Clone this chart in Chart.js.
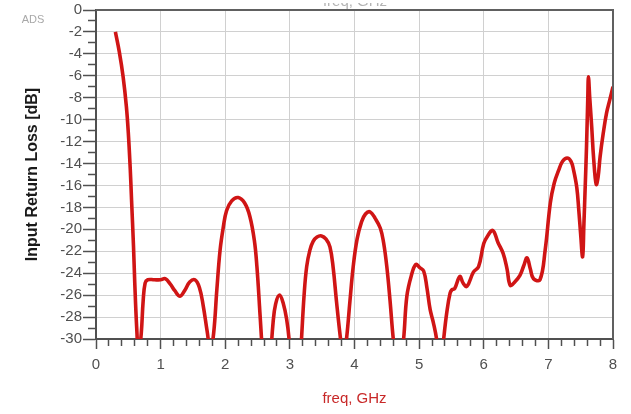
<!DOCTYPE html>
<html>
<head>
<meta charset="utf-8">
<script src="https://cdn.jsdelivr.net/npm/chart.js@4.4.1/dist/chart.umd.min.js"></script>
<style>
  body { margin: 0; background: #fff; }
  #wrap { width: 631px; height: 414px; }
</style>
</head>
<body>
<div id="wrap"><canvas id="myChart"></canvas></div>
<script>
// frequency in GHz
let freq = [
  0.30, 0.36, 0.42, 0.47, 0.50, 0.53, 0.55, 0.58, 0.60, 0.63, 0.66, 0.70, 0.73, 0.76, 0.80,
  0.90, 1.00, 1.07, 1.15, 1.22, 1.30, 1.38, 1.45, 1.53, 1.60, 1.66, 1.72, 1.77, 1.82, 1.87,
  1.92, 1.97, 2.02, 2.10, 2.20, 2.30, 2.38, 2.45, 2.49, 2.53, 2.58, 2.64, 2.70, 2.74, 2.78,
  2.84, 2.90, 2.95, 2.99, 3.05, 3.12, 3.18, 3.22, 3.26, 3.31, 3.36, 3.42, 3.49, 3.56, 3.62,
  3.67, 3.72, 3.78, 3.83, 3.88, 3.93, 3.98, 4.04, 4.11, 4.17, 4.24, 4.32, 4.40, 4.45, 4.50,
  4.55, 4.60, 4.68, 4.76, 4.81, 4.88, 4.95, 5.01, 5.07, 5.12, 5.17, 5.22, 5.27, 5.33, 5.38,
  5.43, 5.48, 5.51, 5.55, 5.63, 5.68, 5.74, 5.84, 5.92, 6.00, 6.06, 6.14, 6.22, 6.30, 6.36,
  6.41, 6.48, 6.56, 6.62, 6.67, 6.72, 6.77, 6.87, 6.95, 7.03, 7.09, 7.16, 7.22, 7.29, 7.35,
  7.39, 7.44, 7.47, 7.50, 7.53, 7.55, 7.57, 7.59, 7.61, 7.62, 7.64, 7.67, 7.70, 7.74, 7.77,
  7.80, 7.85, 7.90, 7.95, 8.00
];

// input return loss in dB (values below -30 are cut off by the axis)
let returnLoss = [
  -2.0, -3.8, -6.1, -8.8, -11.2, -14.5, -17.3, -21.5, -24.9, -29.0, -31.5, -29.5, -26.5, -24.9, -24.6,
  -24.6, -24.6, -24.5, -25.0, -25.6, -26.1, -25.5, -24.8, -24.6, -25.3, -27.0, -29.3, -31.0, -29.5, -25.5,
  -21.9, -19.8, -18.3, -17.4, -17.1, -17.6, -18.8, -21.0, -23.4, -27.0, -32.0, -40.0, -32.0, -28.5, -26.8,
  -26.0, -26.8, -28.2, -30.2, -36.0, -36.0, -30.0, -26.0, -23.4, -21.9, -21.1, -20.7, -20.6, -20.9, -21.6,
  -23.5, -26.5, -29.8, -32.0, -29.8, -26.5, -23.4, -20.9, -19.3, -18.6, -18.4, -19.0, -19.9, -21.2, -23.4,
  -26.5, -30.0, -34.0, -30.0, -26.1, -24.2, -23.2, -23.5, -23.8, -25.3, -27.3, -28.5, -30.0, -33.0, -30.0,
  -27.5, -25.8, -25.5, -25.4, -24.3, -24.9, -25.2, -23.9, -23.4, -21.3, -20.6, -20.1, -21.2, -22.2, -23.6,
  -25.1, -24.8, -24.2, -23.3, -22.6, -23.6, -24.5, -24.6, -21.9, -17.6, -15.8, -14.6, -13.8, -13.5, -13.8,
  -14.6, -16.2, -18.2, -20.5, -22.5, -19.5, -16.1, -12.5, -8.0, -6.1, -8.0, -10.6, -13.5, -15.9, -15.2,
  -13.4, -11.2, -9.4, -8.2, -7.0
];

let xLabelTitle = 'freq, GHz';
let yLabelTitle = 'Input Return Loss [dB]';

function isWhole(v) {
    return Math.abs(v - Math.round(v)) < 1e-6;
}

// frame on top and right, plus the small texts of the ADS window
const framePlugin = {
    id: 'frame',
    afterDraw(chart) {
        const ctx = chart.ctx;
        const a = chart.chartArea;
        ctx.save();
        ctx.strokeStyle = '#606060';
        ctx.lineWidth = 2;
        ctx.beginPath();
        ctx.moveTo(a.left, a.top);
        ctx.lineTo(a.right, a.top);
        ctx.lineTo(a.right, a.bottom);
        ctx.stroke();

        ctx.fillStyle = '#a8a8a8';
        ctx.font = '11px "Liberation Sans", Arial, sans-serif';
        ctx.textAlign = 'center';
        ctx.textBaseline = 'middle';
        ctx.fillText('ADS', 33, 20);

        // cut-off title left over at the very top of the window
        ctx.beginPath();
        ctx.rect(0, 3, chart.width, 6);
        ctx.clip();
        ctx.fillStyle = '#b4b4b4';
        ctx.font = '15px "Liberation Sans", Arial, sans-serif';
        ctx.textBaseline = 'alphabetic';
        ctx.fillText(xLabelTitle, 355, 6);
        ctx.restore();
    }
};

let points = freq.map((f, i) => ({x: f, y: returnLoss[i]}));

let ctx = document.getElementById('myChart').getContext('2d');
let chart = new Chart(ctx, {
    type: 'line',
    data: {
        datasets: [{
            data: points,
            borderColor: '#d01515',
            borderWidth: 3.6,
            pointRadius: 0,
            fill: false,
            tension: 0.4
        }]
    },
    options: {
        responsive: true,
        maintainAspectRatio: false,
        animation: false,
        layout: { padding: { left: 0, top: 10, right: 18, bottom: 0 } },
        plugins: {
            legend: { display: false },
            tooltip: { enabled: false }
        },
        scales: {
            x: {
                type: 'linear',
                min: 0,
                max: 8,
                afterFit(scale) { scale.height = 75; },
                border: { color: '#505050', width: 2 },
                grid: {
                    color: (c) => isWhole(c.tick.value) ? '#d0d0d0' : 'rgba(0,0,0,0)',
                    lineWidth: 1,
                    tickLength: 10,
                    tickColor: '#505050',
                    tickWidth: 1.5,
                    tickBorderDash: (c) => isWhole(c.tick.value) ? [] : [6, 100]
                },
                ticks: {
                    stepSize: 0.2,
                    autoSkip: false,
                    maxRotation: 0,
                    padding: 7,
                    color: '#505050',
                    font: { family: '"Liberation Sans", Arial, sans-serif', size: 15 },
                    callback: (v) => isWhole(v) ? String(Math.round(v)) : ''
                },
                title: {
                    display: true,
                    text: xLabelTitle,
                    color: '#c82828',
                    padding: { top: 6, bottom: 6 },
                    font: { family: '"Liberation Sans", Arial, sans-serif', size: 15 }
                }
            },
            y: {
                min: -30,
                max: 0,
                afterFit(scale) { scale.width = 96; },
                border: { color: '#505050', width: 2 },
                grid: {
                    color: (c) => (Math.round(c.tick.value) % 2 === 0) ? '#d0d0d0' : 'rgba(0,0,0,0)',
                    lineWidth: 1,
                    tickLength: 13,
                    tickColor: '#505050',
                    tickWidth: 1.5,
                    tickBorderDash: (c) => (Math.round(c.tick.value) % 2 === 0) ? [] : [0, 5, 8, 100]
                },
                ticks: {
                    stepSize: 1,
                    autoSkip: false,
                    padding: 1,
                    color: '#505050',
                    font: { family: '"Liberation Sans", Arial, sans-serif', size: 15 },
                    callback: (v) => (Math.round(v) % 2 === 0) ? String(Math.round(v)) : ''
                },
                title: {
                    display: true,
                    text: yLabelTitle,
                    color: '#1a1a1a',
                    padding: { top: 23, bottom: 23 },
                    font: { family: '"Liberation Sans", Arial, sans-serif', size: 16, weight: 'bold' }
                }
            }
        }
    },
    plugins: [framePlugin]
});
</script>
</body>
</html>
